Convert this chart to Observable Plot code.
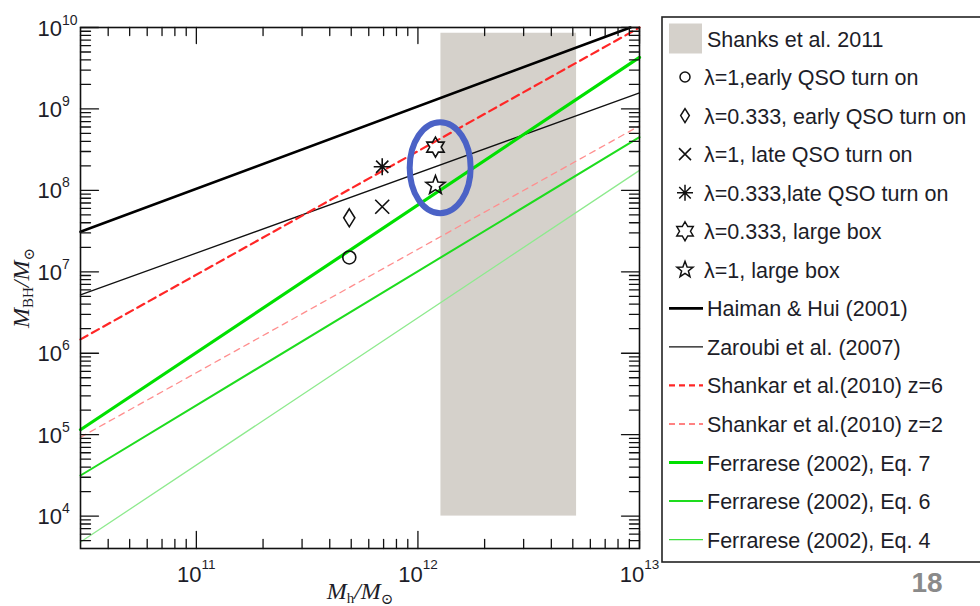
<!DOCTYPE html>
<html><head><meta charset="utf-8">
<script src="https://cdn.jsdelivr.net/npm/d3@7"></script>
<script src="https://cdn.jsdelivr.net/npm/@observablehq/plot@0.6"></script>
<style>
body{margin:0;background:#fff}
#chart{position:relative;width:980px;height:606px;overflow:hidden}
</style>
</head><body><div id="chart"></div>
<script>
// ---------- data ----------
const xDomain = [3e10, 1e13];
const yDomain = [4e3, 1e10];
const xMajorTicks = [1e11, 1e12, 1e13];
const xTickExponents = ["11", "12", "13"];
const yMajorTicks = [1e4, 1e5, 1e6, 1e7, 1e8, 1e9, 1e10];
const yTickExponents = ["4", "5", "6", "7", "8", "9", "10"];

const seriesNames = [
  "Haiman & Hui (2001)",
  "Zaroubi et al. (2007)",
  "Shankar et al.(2010) z=6",
  "Shankar et al.(2010) z=2",
  "Ferrarese (2002), Eq. 7",
  "Ferrarese (2002), Eq. 6",
  "Ferrarese (2002), Eq. 4"
];
const seriesMh = [
  [3e10, 9.1e12],
  [3e10, 1e13],
  [3e10, 1e13],
  [3e10, 1e13],
  [3e10, 1e13],
  [3e10, 1e13],
  [3e10, 1e13]
];
const seriesMbh = [
  [3.1e7, 1e10],
  [5.2e6, 1.57e9],
  [1.48e6, 1e10],
  [9.3e4, 6.2e8],
  [1.15e5, 4.3e9],
  [3.15e4, 4.5e8],
  [4.8e3, 1.76e8]
];

const qsoLabels = [
  "λ=1,early QSO turn on",
  "λ=0.333, early QSO turn on",
  "λ=1, late QSO turn on",
  "λ=0.333,late QSO turn on",
  "λ=0.333, large box",
  "λ=1, large box"
];
const qsoMh = [4.9e11, 4.9e11, 6.9e11, 6.9e11, 1.2e12, 1.2e12];
const qsoMbh = [1.5e7, 4.6e7, 6.3e7, 1.95e8, 3.4e8, 1.15e8];

const shanksLabel = "Shanks et al. 2011";
const shanksMh = [1.27e12, 5.2e12];
const shanksMbh = [1e4, 8.5e9];

const highlightMh = [1.26e12];
const highlightMbh = [1.9e8];

const xTitleSub = "h";
const yTitleSub = "BH";
const pageNumber = "18";

// ---------- styles ----------
const seriesStyles = [
  {stroke: "#000000", strokeWidth: 2.6, dash: null, legend: "#000000"},
  {stroke: "#111111", strokeWidth: 1.3, dash: null, legend: "#111111"},
  {stroke: "#ff2626", strokeWidth: 2.2, dash: "8,5", legend: "#ff2626"},
  {stroke: "#ff8e8e", strokeWidth: 1.3, dash: "6,5", legend: "#ff5a5a"},
  {stroke: "#00e000", strokeWidth: 3.2, dash: null, legend: "#00e000"},
  {stroke: "#1edc1e", strokeWidth: 2.0, dash: null, legend: "#1edc1e"},
  {stroke: "#8eea8e", strokeWidth: 1.3, dash: null, legend: "#3ee03e"}
];

const rad = s => Math.sqrt(s / Math.PI);
const symCircle = {draw(c, s) { const r = rad(s); c.moveTo(r, 0); c.arc(0, 0, r, 0, 2 * Math.PI); }};
const symDiamond = {draw(c, s) { const r = rad(s), w = r * 0.62; c.moveTo(0, -r); c.lineTo(w, 0); c.lineTo(0, r); c.lineTo(-w, 0); c.closePath(); }};
const symTimes = {draw(c, s) { const r = rad(s); c.moveTo(-r, -r); c.lineTo(r, r); c.moveTo(-r, r); c.lineTo(r, -r); }};
const symAsterisk = {draw(c, s) { const r = rad(s), d = r * 0.72; c.moveTo(0, -r); c.lineTo(0, r); c.moveTo(-r, 0); c.lineTo(r, 0); c.moveTo(-d, -d); c.lineTo(d, d); c.moveTo(-d, d); c.lineTo(d, -d); }};
const symStar6 = {draw(c, s) { const R = rad(s), ri = R / Math.sqrt(3); for (let k = 0; k < 12; k++) { const a = -Math.PI / 2 + k * Math.PI / 6, rr = k % 2 ? ri : R; const x = rr * Math.cos(a), y = rr * Math.sin(a); if (k) c.lineTo(x, y); else c.moveTo(x, y); } c.closePath(); }};
const symStar5 = {draw(c, s) { const R = rad(s), ri = R * 0.42; for (let k = 0; k < 10; k++) { const a = -Math.PI / 2 + k * Math.PI / 5, rr = k % 2 ? ri : R; const x = rr * Math.cos(a), y = rr * Math.sin(a); if (k) c.lineTo(x, y); else c.moveTo(x, y); } c.closePath(); }};
const symEllipse = {draw(c, s) { const ry = rad(s), rx = ry * 0.67, k = 0.5523;
  c.moveTo(rx, 0);
  c.bezierCurveTo(rx, k * ry, k * rx, ry, 0, ry);
  c.bezierCurveTo(-k * rx, ry, -rx, k * ry, -rx, 0);
  c.bezierCurveTo(-rx, -k * ry, -k * rx, -ry, 0, -ry);
  c.bezierCurveTo(k * rx, -ry, rx, -k * ry, rx, 0);
  c.closePath(); }};
const qsoSymbols = [symCircle, symDiamond, symTimes, symAsterisk, symStar6, symStar5];
const qsoSizes = [6.5, 9, 7, 8.5, 10, 10];

const tickShape = {draw(c, l) { c.moveTo(0, 0); c.lineTo(0, -l); }};
const ink = "#111";
const textInk = "#1d1d28";

// ---------- derived tables ----------
const lineRows = seriesNames.flatMap((name, i) => seriesMh[i].map((x, j) => ({name, x, y: seriesMbh[i][j]})));
const qsoRows = qsoLabels.map((label, i) => ({label, x: qsoMh[i], y: qsoMbh[i]}));
const shanksRows = [{x1: shanksMh[0], x2: shanksMh[1], y1: shanksMbh[0], y2: shanksMbh[1]}];
const highlightRows = highlightMh.map((x, i) => ({x, y: highlightMbh[i]}));

const minorTicks = (lo, hi) => {
  const out = [];
  for (let e = Math.floor(Math.log10(lo)); e < Math.ceil(Math.log10(hi)); e++)
    for (let k = 2; k <= 9; k++) { const v = k * Math.pow(10, e); if (v > lo && v < hi) out.push(v); }
  return out;
};
const xMinorTicks = minorTicks(xDomain[0], xDomain[1]);
const yMinorTicks = minorTicks(yDomain[0], yDomain[1]);

// ---------- marks ----------
const marks = [];
marks.push(Plot.rect(shanksRows, {x1: "x1", x2: "x2", y1: "y1", y2: "y2", fill: "#d5d1cb"}));
seriesNames.forEach((name, i) => {
  const st = seriesStyles[i];
  marks.push(Plot.line(lineRows.filter(d => d.name === name), {x: "x", y: "y", stroke: st.stroke, strokeWidth: st.strokeWidth, strokeDasharray: st.dash}));
});
qsoRows.forEach((d, i) => {
  marks.push(Plot.dot([d], {x: "x", y: "y", symbol: qsoSymbols[i], r: qsoSizes[i], stroke: ink, fill: "none", strokeWidth: 1.6}));
});
marks.push(Plot.dot(highlightRows, {x: "x", y: "y", symbol: symEllipse, r: 45.5, stroke: "#4b62c6", fill: "none", strokeWidth: 6}));

const tickSets = [
  {data: xMajorTicks, ch: "x", anchor: "bottom", rotate: 0, len: 17},
  {data: xMinorTicks, ch: "x", anchor: "bottom", rotate: 0, len: 9},
  {data: xMajorTicks, ch: "x", anchor: "top", rotate: 180, len: 16},
  {data: xMinorTicks, ch: "x", anchor: "top", rotate: 180, len: 8},
  {data: yMajorTicks, ch: "y", anchor: "left", rotate: 90, len: 18},
  {data: yMinorTicks, ch: "y", anchor: "left", rotate: 90, len: 10},
  {data: yMajorTicks, ch: "y", anchor: "right", rotate: -90, len: 18},
  {data: yMinorTicks, ch: "y", anchor: "right", rotate: -90, len: 10}
];
tickSets.forEach(t => {
  marks.push(Plot.vector(t.data, {[t.ch]: d => d, frameAnchor: t.anchor, rotate: t.rotate, length: t.len, anchor: "start", shape: tickShape, stroke: ink, strokeWidth: 1.3}));
});
marks.push(Plot.frame({stroke: ink, strokeWidth: 1.6}));

// text placeholders "kind|value" are expanded into tspans after rendering
marks.push(Plot.text(xMajorTicks, {x: d => d, frameAnchor: "bottom", dy: 33, text: (d, i) => "P|" + xTickExponents[i], textAnchor: "middle", lineAnchor: "bottom", fontSize: 22, fill: textInk}));
marks.push(Plot.text(yMajorTicks, {y: d => d, frameAnchor: "left", dx: -43, dy: 8, text: (d, i) => "Q|" + yTickExponents[i], textAnchor: "start", lineAnchor: "bottom", fontSize: 22, fill: textInk}));
marks.push(Plot.text(["M|" + xTitleSub], {frameAnchor: "bottom", dy: 50, textAnchor: "middle", lineAnchor: "bottom", fontSize: 24, fill: textInk}));
marks.push(Plot.text(["M|" + yTitleSub], {frameAnchor: "left", dx: -52, rotate: -90, textAnchor: "middle", lineAnchor: "bottom", fontSize: 24, fill: textInk}));

const svg = Plot.plot({
  width: 980, height: 606,
  marginLeft: 80, marginRight: 341, marginTop: 27, marginBottom: 58,
  x: {type: "log", domain: xDomain, axis: null},
  y: {type: "log", domain: yDomain, axis: null},
  style: {fontFamily: "Liberation Sans, Arial, sans-serif", background: "#fff", overflow: "visible"},
  marks
});
document.getElementById("chart").appendChild(svg);

// ---------- superscript / subscript text ----------
const root = d3.select(svg);
root.selectAll("text").each(function() {
  const s = this.textContent;
  const bar = s.indexOf("|");
  if (bar !== 1) return;
  const kind = s[0], val = s.slice(2);
  const t = d3.select(this);
  t.text(null);
  if (kind === "P" || kind === "Q") {
    t.append("tspan").text("10");
    t.append("tspan").attr("dy", kind === "P" ? -13 : -11).attr("font-size", kind === "P" ? 13.5 : 14).text(val);
  } else if (kind === "M") {
    t.attr("font-family", "Liberation Serif, DejaVu Serif, serif");
    t.append("tspan").attr("font-style", "italic").text("M");
    t.append("tspan").attr("font-size", 15).attr("dy", 4).text(val);
    t.append("tspan").attr("font-style", "italic").attr("dy", -4).text("/M");
    t.append("tspan").attr("font-size", 15).attr("dy", 5).text("⊙");
  }
});

// ---------- legend ----------
const lg = root.append("g").attr("font-family", "Liberation Sans, Arial, sans-serif").attr("font-size", 21.5).attr("fill", textInk).attr("text-anchor", "start");
lg.append("rect").attr("x", 662).attr("y", 17).attr("width", 340).attr("height", 545).attr("fill", "#fff").attr("stroke", "#222").attr("stroke-width", 1.6);
const rowY = i => 38.5 + i * 38.55;
lg.append("rect").attr("x", 669).attr("y", rowY(0) - 15).attr("width", 33).attr("height", 30).attr("fill", "#d5d1cb");
lg.append("text").attr("x", 707).attr("y", rowY(0) + 8).text(shanksLabel);
const legendSymSizes = [5, 7, 6, 8, 9.5, 8.5];
qsoLabels.forEach((label, i) => {
  const y = rowY(i + 1);
  lg.append("path").attr("transform", `translate(685,${y})`)
    .attr("d", d3.symbol(qsoSymbols[i], Math.PI * legendSymSizes[i] ** 2)())
    .attr("fill", "none").attr("stroke", ink).attr("stroke-width", 1.5);
  lg.append("text").attr("x", 704).attr("y", y + 8).text(label);
});
seriesNames.forEach((name, i) => {
  const y = rowY(i + 7), st = seriesStyles[i];
  lg.append("line").attr("x1", 669).attr("x2", 703).attr("y1", y).attr("y2", y)
    .attr("stroke", st.legend).attr("stroke-width", Math.min(st.strokeWidth, 3))
    .attr("stroke-dasharray", st.dash ? "6,4" : null);
  lg.append("text").attr("x", 707).attr("y", y + 8).text(name);
});

root.append("text").attr("x", 927).attr("y", 592).attr("text-anchor", "middle")
  .attr("font-family", "Liberation Sans, Arial, sans-serif").attr("font-weight", "bold")
  .attr("font-size", 28).attr("fill", "#8a8a8a").text(pageNumber);
</script>
</body></html>
